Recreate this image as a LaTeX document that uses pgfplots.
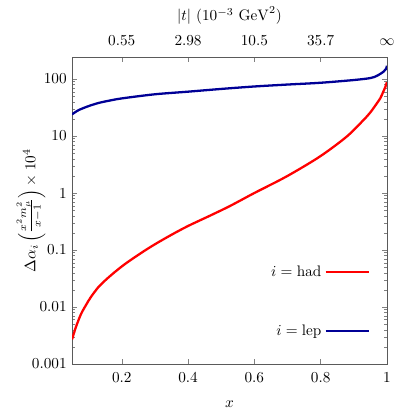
\documentclass[border=0pt]{standalone}
\usepackage{pgfplots}
\pgfplotsset{compat=1.18}
\definecolor{lepblue}{RGB}{0,0,150}
\definecolor{hadred}{RGB}{255,0,0}
\definecolor{framegray}{RGB}{90,90,90}
\begin{document}
\begin{tikzpicture}
\begin{axis}[
  scale only axis, width=205.9bp, height=200.7bp,
  xmin=0.05, xmax=1, ymode=log, ymin=0.001, ymax=243,
  xtick={0.2,0.4,0.6,0.8,1}, xticklabels={0.2,0.4,0.6,0.8,1},
  ytick={0.001,0.01,0.1,1,10,100}, yticklabels={0.001,0.01,0.1,1,10,100},
  tick align=inside, xtick pos=both, ytick pos=both,
  axis line style={framegray}, tick style={gray},
  major tick length=3pt, minor tick length=2pt,
  xticklabel style={yshift=-2bp},
  xlabel={$x$},
  xlabel style={yshift=-5bp},
  ylabel={$\Delta\alpha_i\left(\frac{x^2m_\mu^2}{x-1}\right)\times 10^4$},
  every axis y label/.style={at={(rel axis cs:0,0.5)}, rotate=90, anchor=center, yshift=26.8bp},
  legend style={draw=none, fill=none, at={(rel axis cs:0.963,0.2036)}, anchor=east,
    legend plot pos=right, row sep=26bp, cells={anchor=east}},
  legend image code/.code={\draw[#1] (0bp,0bp) -- (28.6bp,0bp);},
]
\addplot[hadred, line width=1.5pt, smooth] coordinates {
(0.05,0.0027)(0.062,0.0045)(0.077,0.0075)(0.092,0.0108)(0.107,0.015)(0.13,0.0225)(0.152,0.0300)
(0.18,0.0415)(0.212,0.058)(0.26,0.09)(0.301,0.127)(0.35,0.185)(0.4,0.264)(0.466,0.40)(0.526,0.59)(0.6,1.0)
(0.697,1.95)(0.797,4.34)(0.878,9.7)(0.929,19)(0.95,26)(0.969,37)(0.98,46)
(0.989,60)(0.995,72)(1.0,88)};
\addlegendentry{$i=\mathrm{had}$}
\addplot[lepblue, line width=1.5pt, smooth] coordinates {
(0.05,24)(0.07,28.5)(0.1,33.5)(0.13,38)(0.16,41.5)(0.2,45.7)(0.3,54)(0.4,60)(0.5,67)
(0.6,74)(0.7,80)(0.8,86)(0.9,96)(0.95,104)(0.97,114)(0.99,135)(0.997,150)(1.0,171)};
\addlegendentry{$i=\mathrm{lep}$}
\end{axis}
\begin{axis}[
  scale only axis, width=205.9bp, height=200.7bp,
  xmin=0.05, xmax=1, ymin=0, ymax=1,
  axis x line*=top, axis y line=none,
  axis line style={draw=none},
  xtick={0.2,0.4,0.6,0.8,1}, xticklabels={0.55,2.98,10.5,35.7,$\infty$},
  major tick length=0pt,
  xticklabel style={yshift=4bp},
  xlabel={$|t|$ $(10^{-3}\ \mathrm{GeV}^2)$},
]
\end{axis}
\path (current axis.south west) ++(-47.1bp,-34bp) coordinate (bbsw);
\path (current axis.north east) ++(19bp,37.3bp) coordinate (bbne);
\pgfresetboundingbox
\useasboundingbox (bbsw) rectangle (bbne);
\end{tikzpicture}
\end{document}
